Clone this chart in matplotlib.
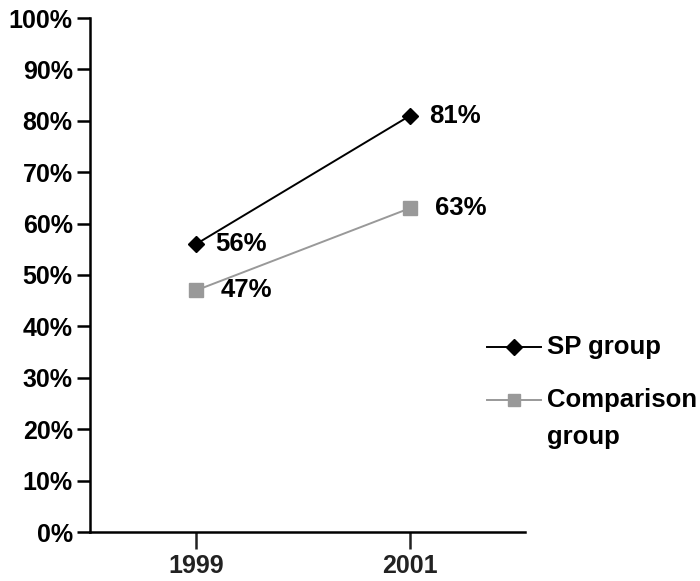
import matplotlib
matplotlib.use("Agg")
import matplotlib.pyplot as plt
from matplotlib.lines import Line2D

years = ["1999", "2001"]
sp_group = [56, 81]
comparison_group = [47, 63]
y_ticks = list(range(0, 101, 10))
series_names = ["SP group", "Comparison\ngroup"]

plt.rcParams['font.family'] = ['Liberation Sans', 'DejaVu Sans']
plt.rcParams['font.weight'] = 'bold'
FS = 18.5
FS_TICK = 18

W, H = 700, 581
fig = plt.figure(figsize=(W/100, H/100), dpi=100)
ax = fig.add_axes([90/W, 49/H, 435/W, 514/H])

sp_style = dict(color='black', lw=1.4, marker='D', ms=8, mfc='black', mec='black')
cmp_style = dict(color='#999999', lw=1.4, marker='s', ms=9.5, mfc='#999999', mec='#999999')

x = list(range(len(years)))
ax.plot(x, sp_group, zorder=3, **sp_style)
ax.plot(x, comparison_group, zorder=2, **cmp_style)

for xi, v in zip(x, sp_group):
    ax.annotate(f"{v}%", (xi, v), xytext=(14, 0), textcoords='offset points',
                va='center', ha='left', fontsize=FS, fontweight='bold')
for xi, v in zip(x, comparison_group):
    ax.annotate(f"{v}%", (xi, v), xytext=(18, 0), textcoords='offset points',
                va='center', ha='left', fontsize=FS, fontweight='bold')

ax.set_xlim(-0.495, 1.537)
ax.set_ylim(0, 100)
ax.set_xticks(x)
ax.set_xticklabels(years, fontsize=FS_TICK, fontweight='bold', color='#222222')
ax.set_yticks(y_ticks)
ax.set_yticklabels([f"{t}%" for t in y_ticks], fontsize=FS_TICK, fontweight='bold')
ax.tick_params(axis='y', direction='out', length=9.5, width=1.8, pad=3)
ax.tick_params(axis='x', direction='out', length=12, width=1.8, pad=4, color='#222222')

for s in ['top', 'right']:
    ax.spines[s].set_visible(False)
for s in ['left', 'bottom']:
    ax.spines[s].set_linewidth(1.8)

# manual legend
leg_styles = [
    dict(color='black', lw=1.4, marker='D', ms=8, mfc='black', mec='black'),
    dict(color='#999999', lw=1.4, marker='s', ms=8.5, mfc='#999999', mec='#999999'),
]
legend_y = [347, 400]
for name, st, yy in zip(series_names, leg_styles, legend_y):
    yf = 1 - yy / H
    fig.add_artist(Line2D([487/W, 541/W], [yf, yf], transform=fig.transFigure,
                          color=st['color'], lw=st['lw']))
    fig.add_artist(Line2D([514/W], [yf], transform=fig.transFigure, linestyle='none',
                          marker=st['marker'], ms=st['ms'], mfc=st['mfc'], mec=st['mec']))
    for i, ln in enumerate(name.split("\n")):
        fig.text(547/W, 1 - (yy + 37*i)/H, ln, fontsize=FS, fontweight='bold', va='center', ha='left')

fig.savefig("out.png", dpi=100)
